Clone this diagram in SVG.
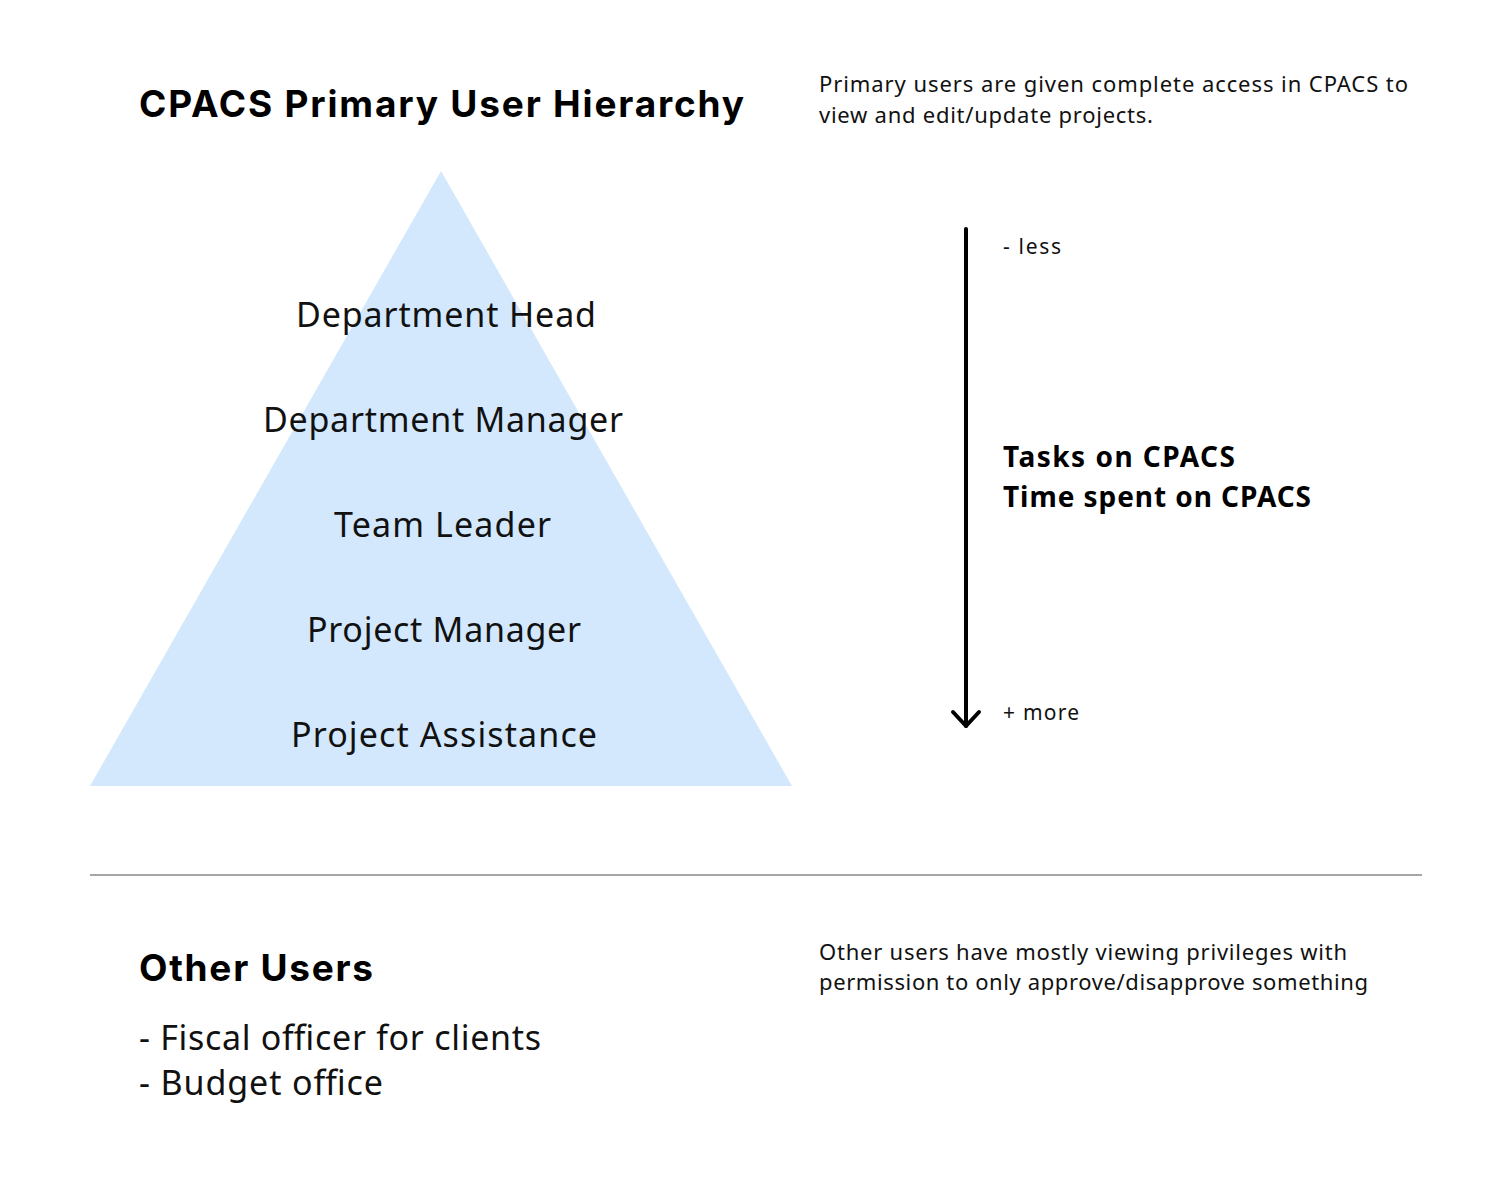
<svg xmlns="http://www.w3.org/2000/svg" width="1500" height="1182" viewBox="0 0 1500 1182">
<style>
.title{font-family:"Inter","Liberation Sans",sans-serif;font-weight:700;font-size:37px;fill:#000}
.lvl{font-family:"Noto Sans","Liberation Sans",sans-serif;font-size:34px;fill:#111;text-anchor:middle}
.desc{font-family:"Noto Sans","Liberation Sans",sans-serif;font-size:22px;fill:#111}
.small{font-family:"Noto Sans","Liberation Sans",sans-serif;font-size:21px;fill:#111}
.bold{font-family:"Noto Sans","Liberation Sans",sans-serif;font-size:28px;font-weight:700;fill:#000}
.list{font-family:"Noto Sans","Liberation Sans",sans-serif;font-size:34px;fill:#111}
</style>
<rect width="1500" height="1182" fill="#fff"/>
<g id="header">
<text class="title" x="139" y="117" textLength="605">CPACS Primary User Hierarchy</text>
<text class="desc" x="819" y="92" textLength="589">Primary users are given complete access in CPACS to</text>
<text class="desc" x="819" y="123" textLength="334">view and edit/update projects.</text>
</g>
<g id="pyramid">
<polygon points="441,171 90,786 792,786" fill="#d3e8fd"/>
</g>
<g id="level-department-head"><text class="lvl" x="446" y="327" textLength="300">Department Head</text></g>
<g id="level-department-manager"><text class="lvl" x="443" y="432" textLength="360">Department Manager</text></g>
<g id="level-team-leader"><text class="lvl" x="442.5" y="537" textLength="217">Team Leader</text></g>
<g id="level-project-manager"><text class="lvl" x="444" y="642" textLength="274">Project Manager</text></g>
<g id="level-project-assistance"><text class="lvl" x="444" y="747" textLength="306">Project Assistance</text></g>
<g id="connectors">
<line x1="966" y1="229" x2="966" y2="726" stroke="#000" stroke-width="4" stroke-linecap="round"/>
<polyline points="953,712 966,726 979,712" fill="none" stroke="#000" stroke-width="4" stroke-linecap="round" stroke-linejoin="round"/>
</g>
<g id="scale">
<text class="small" x="1003" y="254" textLength="58">- less</text>
<text class="small" x="1003" y="720" textLength="76">+ more</text>
<text class="bold" x="1003" y="467" textLength="232">Tasks on CPACS</text>
<text class="bold" x="1003" y="507" textLength="308">Time spent on CPACS</text>
</g>
<g id="divider">
<line x1="90" y1="875" x2="1422" y2="875" stroke="#888" stroke-width="1.5"/>
</g>
<g id="other-users">
<text class="title" x="139" y="981" textLength="234">Other Users</text>
<text class="list" x="139" y="1050" textLength="402">- Fiscal officer for clients</text>
<text class="list" x="139" y="1095" textLength="244">- Budget office</text>
<text class="desc" x="819" y="960" textLength="528">Other users have mostly viewing privileges with</text>
<text class="desc" x="819" y="990" textLength="549">permission to only approve/disapprove something</text>
</g>
</svg>
